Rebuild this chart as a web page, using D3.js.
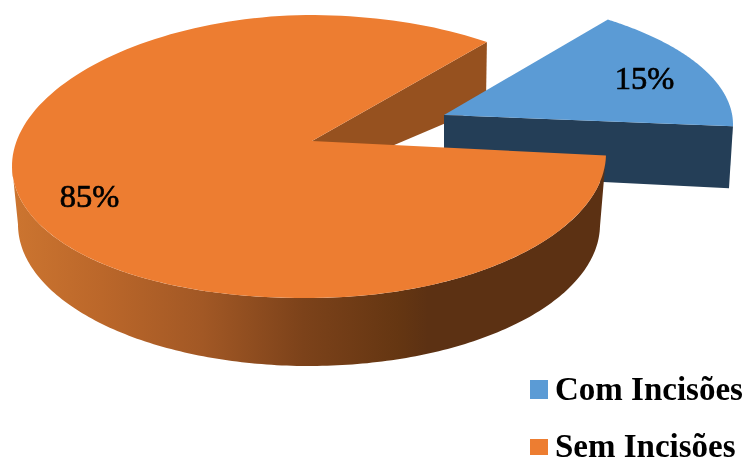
<!DOCTYPE html>
<html>
<head>
<meta charset="utf-8">
<script src="https://cdn.jsdelivr.net/npm/d3@7"></script>
<style>html,body{margin:0;padding:0;background:#fff;overflow:hidden}</style>
</head>
<body>
<svg id="c" width="747" height="458"></svg>
<script>
const categories = ["Com Incisões", "Sem Incisões"];
const seriesValues = [15, 85];
const valueLabels = ["15%", "85%"];
const topColors = ["#5b9bd5", "#ed7d31"];

const W = 747, H = 458;
const svg = d3.select("#c").attr("viewBox", [0, 0, W, H]);
const SERIF = "'Liberation Serif','Times New Roman',serif";
const rad = d => d * Math.PI / 180;
const START = rad(36.8);

const pie = d3.pie().sort(null).startAngle(START).endAngle(START + 2 * Math.PI)(seriesValues);

// Perspective-flattened discs for each slice: top and bottom rims
const geo = [
  { top: {cx: 421, cy: 124.5, rx: 312, ry: 131, ax: 444, ay: 115},
    bot: {cx: 417, cy: 186.5, rx: 312, ry: 131, ax: 444, ay: 174} },
  { top: {cx: 309, cy: 156.5, rx: 297, ry: 141.5, ax: 312, ay: 141, warpL: 9.5, warpR: 3},
    bot: {cx: 309, cy: 224.5, rx: 291, ry: 141.5, ax: 312, ay: 180} }
];
const rim = (e, a) => {
  const u = Math.sin(a), x = e.cx + e.rx * u;
  let y = e.cy - e.ry * Math.cos(a);
  if (e.warpL && u < 0) y += e.warpL * Math.pow(-u, 1.5);
  if (e.warpR && u > 0) y -= e.warpR * u * u;
  return [x, y];
};
const line = d3.line();
const arcPts = (e, a0, a1) => d3.range(0, 181).map(i => rim(e, a0 + (a1 - a0) * i / 180));

const defs = svg.append("defs");
const grad = defs.append("linearGradient").attr("id", "side")
  .attr("gradientUnits", "userSpaceOnUse")
  .attr("x1", 12).attr("x2", 606).attr("y1", 0).attr("y2", 0);
[[0, "#cc7530"], [0.15, "#bb672a"], [0.32, "#a25825"], [0.49, "#7c421a"], [0.65, "#653612"], [0.7, "#5c3113"], [1, "#5c3113"]]
  .forEach(([o, c]) => grad.append("stop").attr("offset", o).attr("stop-color", c));
defs.append("filter").attr("id", "soft").append("feGaussianBlur").attr("stdDeviation", 0.45);

const g = svg.append("g");

// Large slice's cut wall, behind everything
const b = pie[1], bg = geo[1];
const cut = rim(bg.top, b.endAngle);
g.append("path")
  .attr("d", line([[bg.top.ax, bg.top.ay], cut, [cut[0] - 1, cut[1] + 64], [bg.bot.ax, bg.bot.ay]]) + "Z")
  .attr("fill", "#96511f");

// Small slice (exploded)
const s = pie[0], sg = geo[0];
g.append("path")
  .attr("d", line([[sg.top.ax, sg.top.ay], rim(sg.top, s.endAngle), rim(sg.bot, s.endAngle), [sg.bot.ax, sg.bot.ay]]) + "Z")
  .attr("fill", "#243e57");
g.append("path")
  .attr("d", line([[sg.top.ax, sg.top.ay], ...arcPts(sg.top, s.startAngle, s.endAngle)]) + "Z")
  .attr("fill", topColors[0]);

// Large slice outer side and top face
g.append("path")
  .attr("d", line([...arcPts(bg.top, b.startAngle, rad(270)), ...arcPts(bg.bot, rad(270), b.startAngle)]) + "Z")
  .attr("fill", "url(#side)");
g.append("path")
  .attr("d", line([[bg.top.ax, bg.top.ay], ...arcPts(bg.top, b.startAngle, b.endAngle)]) + "Z")
  .attr("fill", topColors[1]);

// Value labels
const labelPos = [[644.5, 89], [89.5, 207]];
svg.selectAll("text.val").data(valueLabels).join("text")
  .attr("class", "val")
  .attr("x", (d, i) => labelPos[i][0]).attr("y", (d, i) => labelPos[i][1])
  .attr("text-anchor", "middle")
  .attr("font-family", SERIF).attr("font-size", 32.5)
  .attr("stroke", "#000").attr("stroke-width", 0.7)
  .attr("fill", "#000").attr("filter", "url(#soft)")
  .text(d => d);

// Legend
const legY = d3.scalePoint().domain(categories).range([400, 457]);
const leg = svg.selectAll("g.leg").data(categories).join("g").attr("class", "leg");
const swatch = [[380, 19], [439, 16]];
leg.append("rect").attr("x", 530).attr("width", 18)
  .attr("y", (d, i) => swatch[i][0]).attr("height", (d, i) => swatch[i][1])
  .attr("fill", (d, i) => topColors[i]);
leg.append("text").attr("x", 555).attr("y", d => legY(d))
  .attr("font-family", SERIF).attr("font-weight", "bold").attr("font-size", 33)
  .attr("fill", "#000").attr("filter", "url(#soft)")
  .text(d => d);
</script>
</body>
</html>
